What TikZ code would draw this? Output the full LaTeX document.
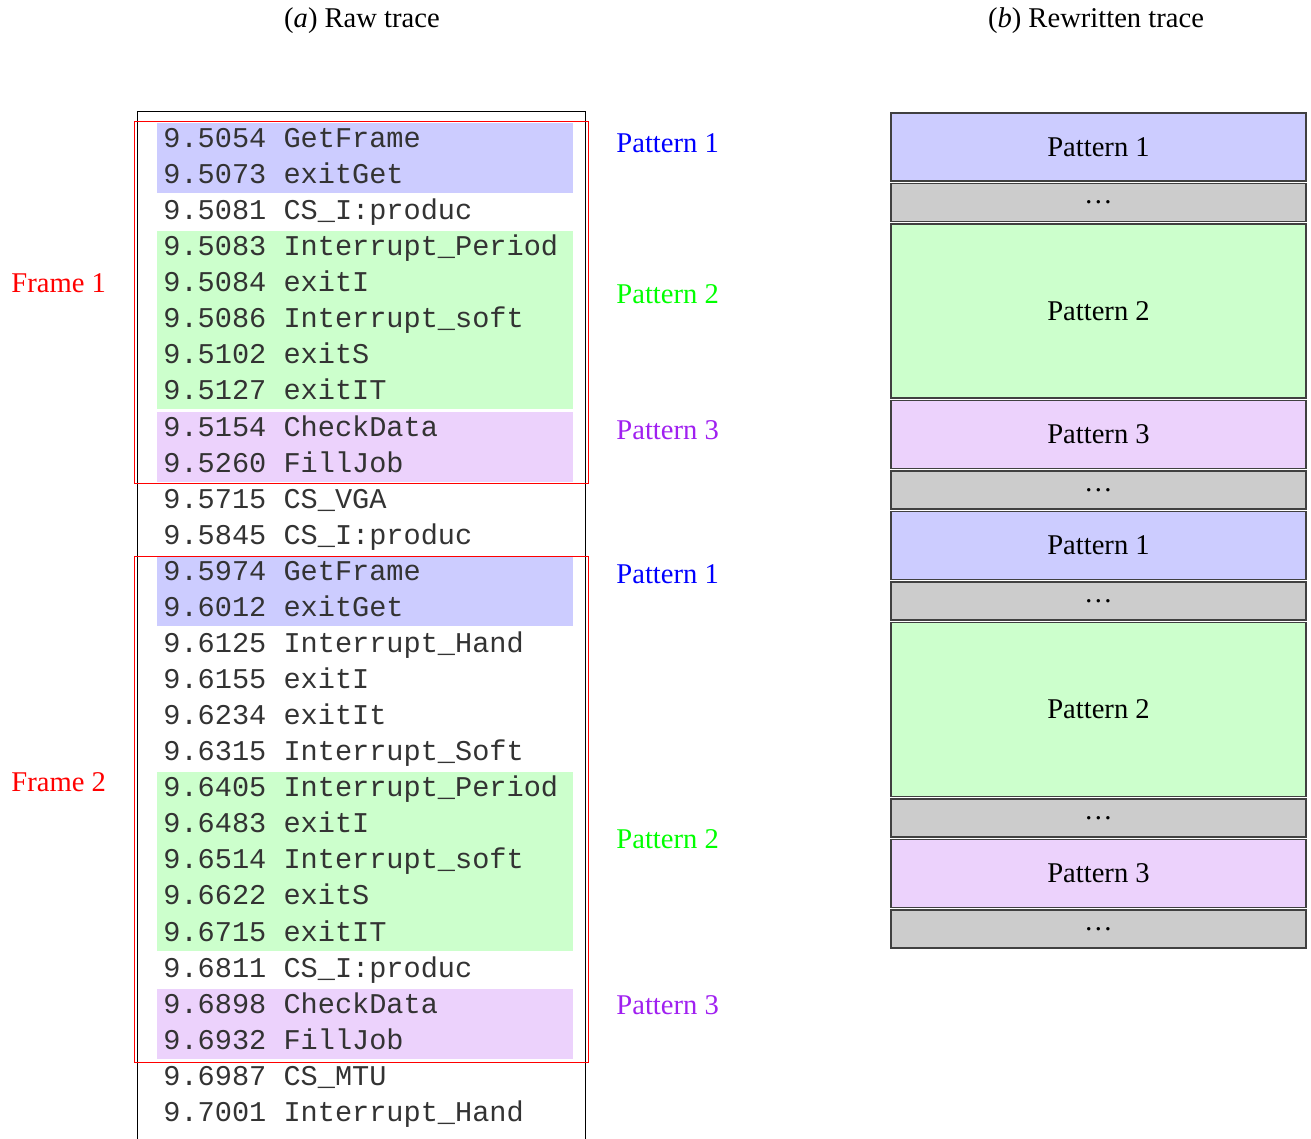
\documentclass[tikz,border=0pt]{standalone}
\usepackage{fontspec}
\setmainfont{Liberation Serif}
\setmonofont{Liberation Mono}
\usetikzlibrary{positioning}
\definecolor{PatOne}{HTML}{0000FF}
\definecolor{PatTwo}{HTML}{00FF00}
\definecolor{PatThree}{HTML}{A020F0}
\definecolor{FillOne}{HTML}{CCCCFF}
\definecolor{FillTwo}{HTML}{CCFFCC}
\definecolor{FillThree}{HTML}{ECD2FC}
\definecolor{FillGap}{HTML}{CCCCCC}
\newcommand{\rowy}[1]{138+36.07*#1}
\begin{document}
\begin{tikzpicture}[x=0.5pt,y=-0.5pt,
  every node/.style={font=\fontsize{14.3}{17}\selectfont},
  tracerow/.style={anchor=base west,inner sep=0pt,text=black!80,font=\fontsize{14.3}{17}\selectfont\ttfamily},
  patname/.style={anchor=west,inner sep=0pt},
  block/.style={draw=black!75,line width=0.6pt,minimum width=207.5pt,inner sep=0pt,outer sep=0pt},
  shortblock/.style={block,minimum height=34pt},
  tallblock/.style={block,minimum height=87pt},
  gapblock/.style={block,fill=FillGap,minimum height=19pt}]
  \useasboundingbox (0,0) rectangle (1311,1139);

  \node (ta) at (362,21) {(\textit{a}) Raw trace};
  \node (tb) at (1096,21) {(\textit{b}) Rewritten trace};

  \foreach \a/\b/\c in {0/1/FillOne, 3/7/FillTwo, 8/9/FillThree,
                        12/13/FillOne, 18/22/FillTwo, 24/25/FillThree}
    \fill[\c] (157,{\rowy{\a}-15}) rectangle (573,{\rowy{\b}+19});

  \foreach \t/\n [count=\i from 0] in {
      9.5054/GetFrame, 9.5073/exitGet, 9.5081/CS\_I:produc,
      9.5083/Interrupt\_Period, 9.5084/exitI, 9.5086/Interrupt\_soft,
      9.5102/exitS, 9.5127/exitIT, 9.5154/CheckData, 9.5260/FillJob,
      9.5715/CS\_VGA, 9.5845/CS\_I:produc, 9.5974/GetFrame, 9.6012/exitGet,
      9.6125/Interrupt\_Hand, 9.6155/exitI, 9.6234/exitIt,
      9.6315/Interrupt\_Soft, 9.6405/Interrupt\_Period, 9.6483/exitI,
      9.6514/Interrupt\_soft, 9.6622/exitS, 9.6715/exitIT,
      9.6811/CS\_I:produc, 9.6898/CheckData, 9.6932/FillJob,
      9.6987/CS\_MTU, 9.7001/Interrupt\_Hand}
    \node[tracerow] (r\i) at (163,{\rowy{\i}+9.5}) {\t{} \n};

  \draw (137,1139) -- (137,111) -- (585,111) -- (585,1139);
  \draw[red] (134,121) rectangle (588,483);
  \draw[red] (134,556) rectangle (588,1062);

  \node[patname,red] (f1) at (11,283) {Frame 1};
  \node[patname,red] (f2) at (11,782) {Frame 2};

  \node[patname,PatOne] (p1a) at (616,143) {Pattern 1};
  \node[patname,PatTwo] (p2a) at (616,294) {Pattern 2};
  \node[patname,PatThree] (p3a) at (616,430) {Pattern 3};
  \node[patname,PatOne] (p1b) at (616,574) {Pattern 1};
  \node[patname,PatTwo] (p2b) at (616,839) {Pattern 2};
  \node[patname,PatThree] (p3b) at (616,1005) {Pattern 3};

  \node[shortblock,fill=FillOne,anchor=north] (b1) at (1098.5,113) {Pattern 1};
  \node[gapblock,below=1.25pt of b1] (g1) {\dots};
  \node[tallblock,fill=FillTwo,below=1.25pt of g1] (b2) {Pattern 2};
  \node[shortblock,fill=FillThree,below=1.25pt of b2] (b3) {Pattern 3};
  \node[gapblock,below=1.25pt of b3] (g2) {\dots};
  \node[shortblock,fill=FillOne,below=1.25pt of g2] (b4) {Pattern 1};
  \node[gapblock,below=1.25pt of b4] (g3) {\dots};
  \node[tallblock,fill=FillTwo,below=1.25pt of g3] (b5) {Pattern 2};
  \node[gapblock,below=1.25pt of b5] (g4) {\dots};
  \node[shortblock,fill=FillThree,below=1.25pt of g4] (b6) {Pattern 3};
  \node[gapblock,below=1.25pt of b6] (g5) {\dots};
\end{tikzpicture}
\end{document}
